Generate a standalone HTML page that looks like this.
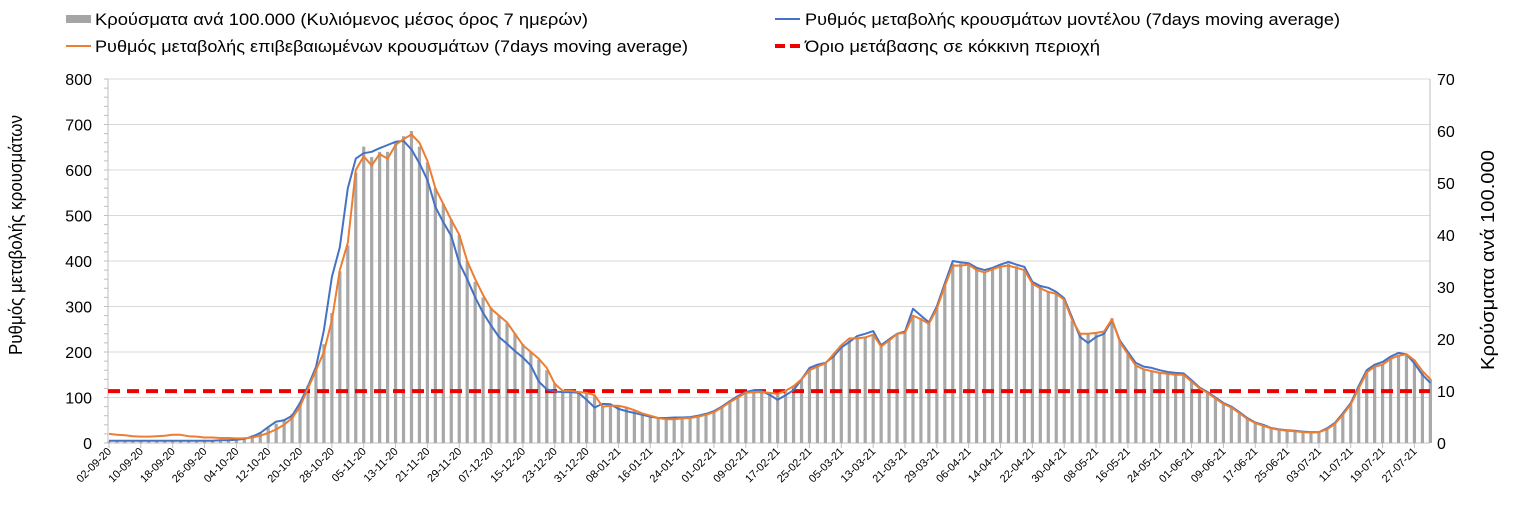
<!DOCTYPE html>
<html><head><meta charset="utf-8"><style>
body{margin:0;background:#fff;width:1514px;height:530px;overflow:hidden;font-family:"Liberation Sans",sans-serif}
svg{display:block}
text{font-family:"Liberation Sans","DejaVu Sans",sans-serif;fill:#000}
</style></head><body>
<svg id="chart" width="1514" height="530" viewBox="0 0 1514 530" xmlns="http://www.w3.org/2000/svg">
<g>
<g><rect x="66" y="15" width="25" height="8" fill="#a5a5a5"/><text x="95" y="25" font-size="17" textLength="493" lengthAdjust="spacingAndGlyphs">Κρούσματα ανά 100.000 (Κυλιόμενος μέσος όρος 7 ημερών)</text></g>
<g><line x1="775" y1="19" x2="800" y2="19" stroke="#4472c4" stroke-width="2"/><text x="805" y="25" font-size="17" textLength="535" lengthAdjust="spacingAndGlyphs">Ρυθμός μεταβολής κρουσμάτων μοντέλου (7days moving average)</text></g>
<g><line x1="66" y1="46" x2="91" y2="46" stroke="#ed7d31" stroke-width="2"/><text x="95" y="52" font-size="17" textLength="593" lengthAdjust="spacingAndGlyphs">Ρυθμός μεταβολής επιβεβαιωμένων κρουσμάτων (7days moving average)</text></g>
<g><line x1="775" y1="46" x2="800" y2="46" stroke="#e00" stroke-width="4" stroke-dasharray="10,5"/><text x="805" y="52" font-size="17" textLength="295" lengthAdjust="spacingAndGlyphs">Όριο μετάβασης σε κόκκινη περιοχή</text></g>
</g>
<text transform="translate(22,235) rotate(-90)" text-anchor="middle" font-size="18" textLength="240" lengthAdjust="spacingAndGlyphs">Ρυθμός μεταβολής κρουσμάτων</text>
<text transform="translate(1494,260) rotate(-90)" text-anchor="middle" font-size="18" textLength="220" lengthAdjust="spacingAndGlyphs">Κρούσματα ανά 100.000</text>
<g id="plot"></g>
</svg>
<script>
const leftTicks=[0,100,200,300,400,500,600,700,800];
const rightTicks=[0,10,20,30,40,50,60,70];
const xLabels=["02-09-20","10-09-20","18-09-20","26-09-20","04-10-20","12-10-20","20-10-20","28-10-20","05-11-20","13-11-20","21-11-20","29-11-20","07-12-20","15-12-20","23-12-20","31-12-20","08-01-21","16-01-21","24-01-21","01-02-21","09-02-21","17-02-21","25-02-21","05-03-21","13-03-21","21-03-21","29-03-21","06-04-21","14-04-21","22-04-21","30-04-21","08-05-21","16-05-21","24-05-21","01-06-21","09-06-21","17-06-21","25-06-21","03-07-21","11-07-21","19-07-21","27-07-21"];
const threshold=[114];
const modelRate=[5,5,5,5,5,5,5,5,5,5,5,5,5,5,6,6,7,9,14,22,35,47,50,60,88,125,167,248,365,430,560,625,637,640,648,655,662,664,645,615,578,519,485,455,396,360,320,286,258,233,218,202,188,170,135,118,113,112,112,110,95,78,86,85,75,70,66,62,58,55,55,56,56,57,60,64,70,80,92,103,112,116,114,106,95,105,116,140,165,172,176,190,210,222,235,240,246,215,228,240,245,295,280,265,300,351,400,397,395,385,380,385,392,398,392,387,354,345,341,332,318,275,233,220,233,240,270,225,200,176,168,165,160,156,154,153,138,122,112,100,88,80,68,55,45,40,33,30,28,27,25,24,24,32,44,65,88,125,160,172,178,190,198,195,175,150,132];
const confirmedRate=[20,18,17,15,14,14,15,16,18,18,15,14,12,12,11,11,10,10,12,16,22,30,40,55,80,120,160,200,270,380,440,600,630,610,635,625,655,668,678,660,620,560,525,490,458,400,360,325,295,280,265,240,215,200,185,165,130,115,115,112,110,105,80,82,82,78,72,65,60,55,52,52,54,55,58,62,68,78,90,100,110,112,112,110,108,115,125,140,160,168,175,195,215,230,230,232,238,212,225,240,242,280,272,262,295,345,390,390,392,380,375,382,388,390,385,380,350,340,332,328,315,270,240,240,242,245,272,222,195,170,162,158,154,152,150,150,135,120,110,98,86,78,66,53,44,38,32,29,27,26,24,23,24,30,42,62,85,120,155,168,172,185,192,195,182,158,140];
const casesPer100k=[0.3,0.3,0.4,0.4,0.5,0.5,0.5,0.5,0.5,0.5,0.5,0.5,0.6,0.6,0.6,0.7,0.9,1.1,1.5,2.1,2.9,3.7,4.6,5.6,7.8,11,14.5,19,25,33,38,52,57,55,56,56,58,59,60,57,54,49,46,43,40,35,31,28,26,24.5,23,21,19,17.5,16,14,11.5,10,10,9.8,9.6,9,7,7.3,7.2,6.8,6.2,5.7,5.3,4.9,4.6,4.6,4.8,4.9,5.1,5.5,6,6.9,7.9,8.8,9.6,9.8,9.8,9.6,9.5,10,11,12.3,14,14.8,15.4,17,18.8,20,20.2,20.4,20.9,18.8,19.8,21,21.3,24.5,24,23,26,30.5,34.5,34.5,34.5,33.5,33,33.5,34,34.5,34,33.5,30.8,30,29,28.7,27.6,23.5,21,21,21.2,21.5,24,19.5,17,15,14.3,13.9,13.5,13.3,13.2,13.2,11.8,10.5,9.6,8.6,7.5,6.8,5.8,4.7,3.9,3.3,2.8,2.5,2.4,2.3,2.1,2,2.1,2.7,3.8,5.5,7.5,10.5,13.6,14.7,15.1,16.2,16.8,17.1,16,13.8,12.3];

const NS="http://www.w3.org/2000/svg";
const plot=document.getElementById('plot');
const X0=108,X1=1430,Y0=443,Y1=79,DAYPX=3.98,STEP=2;
const xDay=d=>X0+1+d*DAYPX;
const yL=v=>Y0-(v/800)*(Y0-Y1);
const yR=v=>Y0-(v/70)*(Y0-Y1);
function mk(tag,attrs,parent){const e=document.createElementNS(NS,tag);for(const k in attrs)e.setAttribute(k,attrs[k]);(parent||plot).appendChild(e);return e;}

leftTicks.forEach(t=>{
  const g=mk('line',{x1:X0,x2:X1,y1:yL(t),y2:yL(t),stroke:t===0?'#bfbfbf':'#d9d9d9','stroke-width':1});
  
  
  const tx=mk('text',{x:92,y:yL(t)+6,'text-anchor':'end','font-size':16});
  tx.textContent=t;
  
  
});
rightTicks.forEach(t=>{
  const tx=mk('text',{x:1437,y:yR(t)+6,'font-size':16});
  tx.textContent=t;
  
  
});
for(let v=0;v<=800;v+=20){mk('line',{x1:X0-4,x2:X0,y1:yL(v),y2:yL(v),stroke:'#bfbfbf'});}
const ax=mk('line',{x1:X0,x2:X0,y1:Y1,y2:Y0,stroke:'#bfbfbf'});


const axr=mk('line',{x1:X1,x2:X1,y1:Y1,y2:Y0,stroke:'#bfbfbf'});



casesPer100k.forEach((v,i)=>{
  const x=xDay(i*STEP);
  const b=mk('rect',{x:x-1.6,y:yR(v),width:3.2,height:Y0-yR(v),fill:'#a8a8a8'});
  
  
});
xLabels.forEach((l,i)=>{
  const x=xDay(i*8);
  mk('line',{x1:x,x2:x,y1:Y0,y2:Y0+5,stroke:'#bfbfbf'});
  const tx=mk('text',{transform:`translate(${x+3},${Y0+9}) rotate(-45)`,'text-anchor':'end','font-size':11});
  tx.textContent=l;
  
  
});
const th=mk('line',{x1:X0,x2:X1,y1:yL(threshold[0]),y2:yL(threshold[0]),stroke:'#e00','stroke-width':4,'stroke-dasharray':'12,7'});


function line(arr,color,name){
  const p=arr.map((v,i)=>(i?'L':'M')+xDay(i*STEP).toFixed(1)+','+yL(v).toFixed(1)).join('');
  const e=mk('path',{d:p,fill:'none',stroke:color,'stroke-width':2,'stroke-linejoin':'round'});
  
  
}
line(modelRate,'#4472c4','model-rate-line');
line(confirmedRate,'#ed7d31','confirmed-rate-line');
</script>
</body></html>
